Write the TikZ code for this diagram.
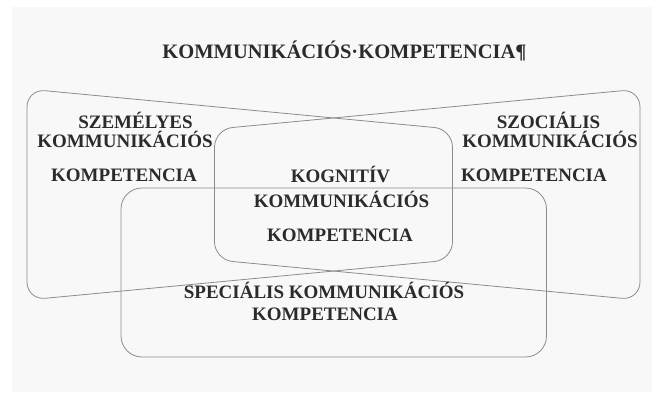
\documentclass[tikz,border=0pt]{standalone}
\usepackage{fontspec}
\setmainfont{Liberation Serif}
\definecolor{bgc}{HTML}{F8F8F8}
\definecolor{edgec}{HTML}{8C8C8C}
\definecolor{inkc}{HTML}{2B2B2B}
\begin{document}
\begin{tikzpicture}[x=1pt,y=-1pt,
  shapeline/.style={draw=edgec,line width=0.8pt,rounded corners=18pt},
  lbl/.style={anchor=base,inner sep=0pt,text=inkc,font=\fontsize{19}{22}\selectfont\bfseries},
  ttl/.style={anchor=base,inner sep=0pt,text=inkc,font=\fontsize{20.5}{24}\selectfont\bfseries}]
\useasboundingbox (0,0) rectangle (652,392);
\fill[white] (0,0) rectangle (652,392);
\fill[bgc] (12,7) rectangle (652,392);
% left (personal) shape
\draw[shapeline] (27,89) -- (452.5,129.2) -- (452.5,259.8) -- (27,300) -- cycle;
% right (social) shape
\draw[shapeline] (640,89) -- (214.5,129.2) -- (214.5,259.8) -- (640,300) -- cycle;
% special box
\draw[shapeline,rounded corners=21pt] (121,188) rectangle (546.5,357);
% title
\node[ttl] (title) at (344.5,58) {KOMMUNIKÁCIÓS·KOMPETENCIA¶};
% left texts
\node[lbl] (szem1) at (135.5,128) {SZEMÉLYES};
\node[lbl] (szem2) at (125,147) {KOMMUNIKÁCIÓS};
\node[lbl] (szem3) at (124,181.5) {KOMPETENCIA};
% right texts
\node[lbl] (szoc1) at (548.5,128) {SZOCIÁLIS};
\node[lbl] (szoc2) at (550,147) {KOMMUNIKÁCIÓS};
\node[lbl] (szoc3) at (534,181.5) {KOMPETENCIA};
% center texts
\node[lbl] (kog1) at (340.5,182.5) {KOGNITÍV};
\node[lbl] (kog2) at (341.5,207) {KOMMUNIKÁCIÓS};
\node[lbl] (kog3) at (340,241) {KOMPETENCIA};
% bottom texts
\node[lbl] (spec1) at (324,298) {SPECIÁLIS KOMMUNIKÁCIÓS};
\node[lbl] (spec2) at (325,320) {KOMPETENCIA};
\end{tikzpicture}
\end{document}
